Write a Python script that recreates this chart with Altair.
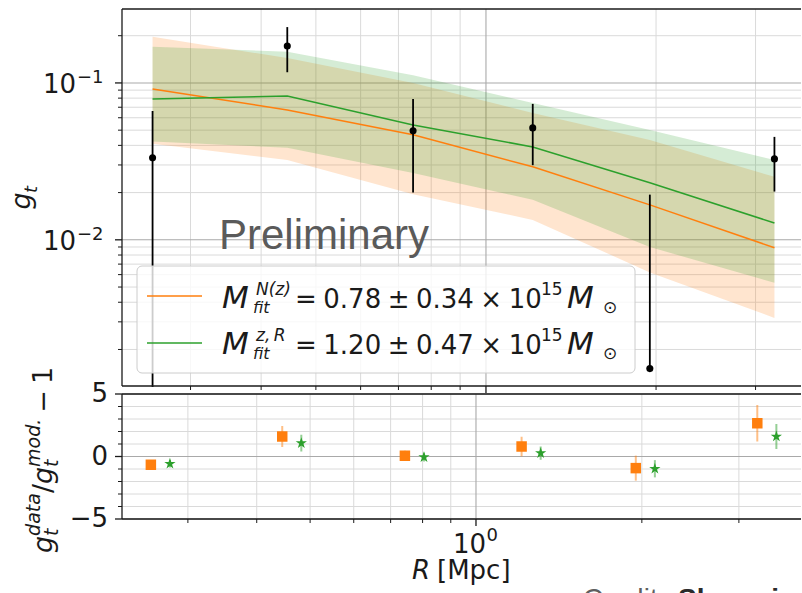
import altair as alt
import pandas as pd

# ---------------------------------------------------------------- data
# radial bins [Mpc]
R = [0.257, 0.445, 0.743, 1.21, 1.95, 3.24]

# measured tangential shear and its 1-sigma error
g_obs = [0.0333, 0.172, 0.0495, 0.0517, 0.00151, 0.0328]
g_err = [0.033, 0.055, 0.0295, 0.0218, 0.0179, 0.0125]

# N(z) fit: model profile and its band
nz_fit = [0.0916, 0.0673, 0.0467, 0.0292, 0.0167, 0.0089]
nz_low = [0.0409, 0.0323, 0.0195, 0.0134, 0.0062, 0.00318]
nz_high = [0.197, 0.144, 0.100, 0.0644, 0.0433, 0.0252]

# z,R fit: model profile and its band
zr_fit = [0.079, 0.0826, 0.054, 0.0391, 0.0231, 0.0128]
zr_low = [0.0423, 0.0386, 0.0267, 0.0180, 0.0090, 0.00532]
zr_high = [0.170, 0.158, 0.112, 0.0746, 0.0502, 0.0323]

# residuals g_data / g_model - 1
res_nz = [-0.66, 1.60, 0.06, 0.80, -0.93, 2.66]
res_nz_err = [0.35, 0.84, 0.40, 0.78, 1.00, 1.46]
res_zr = [-0.58, 1.07, -0.05, 0.27, -0.98, 1.60]
res_zr_err = [0.30, 0.67, 0.35, 0.53, 0.69, 1.00]

# tick values
x_minor = [0.3, 0.4, 0.5, 0.6, 0.7, 0.8, 0.9, 2, 3]
x_major = [1.0]
y_minor_top = [0.002, 0.003, 0.004, 0.005, 0.006, 0.007, 0.008, 0.009,
               0.02, 0.03, 0.04, 0.05, 0.06, 0.07, 0.08, 0.09, 0.2]
y_major_top = [0.01, 0.1]
y_major_exp = ["\u22122", "\u22121"]
y_minor_bot = [-4, -3, -2, -1, 1, 2, 3, 4]
y_major_bot = [-5, 0, 5]
y_major_bot_lab = ["\u22125", "0", "5"]

# legend values
legend_rows = ["=\u20050.78\u2005\u00b1\u20050.34\u2005\u00d7\u200510",
               "=\u20051.20\u2005\u00b1\u20050.47\u2005\u00d7\u200510"]
legend_sup = ["N(z)", "z,\u2009R"]

R_SHIFT = 1.083  # horizontal offset of the z,R residual markers

# ---------------------------------------------------------------- style
ORANGE = "#ff7f0e"
GREEN = "#2ca02c"
INK = "#1a1a1a"
GRID_MINOR = "#dadada"
GRID_MAJOR = "#a9a9a9"
MATH = "DejaVu Sans"
SANS = "Liberation Sans"
# five-pointed star in the unit square used by Vega symbol paths
STAR = ("M0,-1L0.225,-0.309L0.951,-0.309L0.363,0.118L0.588,0.809L0,0.382"
        "L-0.588,0.809L-0.363,0.118L-0.951,-0.309L-0.225,-0.309Z")

# geometry in pixels from the top-left corner of the upper panel
W = 700          # length of the log axes
VIS = 679        # drawn extent to the right (the axes run on past it)
TOP_H = 377
BOT_Y0, BOT_Y1 = 385, 510
VIEW_H = 620

X_TOP_DOM = [0.2269, 3.933]
X_BOT_DOM = [0.2278, 4.246]
xs_top = alt.Scale(type="log", domain=X_TOP_DOM, range=[0, W], nice=False)
ys_top = alt.Scale(type="log", domain=[0.00117, 0.296], range=[TOP_H, 0], nice=False)
xs_bot = alt.Scale(type="log", domain=X_BOT_DOM, range=[0, W], nice=False)
ys_bot = alt.Scale(domain=[-5, 5], range=[BOT_Y1, BOT_Y0], nice=False)


def X_top(f):
    return alt.X(f, type="quantitative", scale=xs_top, axis=None)


def Y_top(f):
    return alt.Y(f, type="quantitative", scale=ys_top, axis=None)


def X_bot(f):
    return alt.X(f, type="quantitative", scale=xs_bot, axis=None)


def Y_bot(f):
    return alt.Y(f, type="quantitative", scale=ys_bot, axis=None)


def one():
    return alt.Chart(pd.DataFrame({"k": [0]}))


def txt(s, x, y, size=26, italic=False, angle=0, align="left", font=MATH,
        color=INK, bold=False, clip=False):
    props = dict(text=s, fontSize=size, font=font, color=color, align=align,
                 baseline="alphabetic")
    if italic:
        props["fontStyle"] = "italic"
    if bold:
        props["fontWeight"] = "bold"
    if angle:
        props["angle"] = angle
    if clip:
        props["clip"] = True
    return one().mark_text(**props).encode(x=alt.value(x), y=alt.value(y))


def vrules(values, X, y0, y1, color, width=1.0):
    return alt.Chart(pd.DataFrame({"v": values})).mark_rule(
        color=color, strokeWidth=width).encode(x=X("v"), y=alt.value(y0), y2=alt.value(y1))


def hrules(values, Y, x0, x1, color, width=1.0):
    return alt.Chart(pd.DataFrame({"v": values})).mark_rule(
        color=color, strokeWidth=width).encode(y=Y("v"), x=alt.value(x0), x2=alt.value(x1))


def seg(x0, y0, x1, y1, color=INK, width=1.3):
    return one().mark_rule(color=color, strokeWidth=width).encode(
        x=alt.value(x0), y=alt.value(y0), x2=alt.value(x1), y2=alt.value(y1))


def frame(y0, y1):
    return [seg(0, y0, VIS, y0), seg(0, y1, VIS, y1), seg(0, y0, 0, y1)]


# ---------------------------------------------------------------- upper panel
prof = pd.DataFrame({"R": R, "nz": nz_fit, "nz_lo": nz_low, "nz_hi": nz_high,
                     "zr": zr_fit, "zr_lo": zr_low, "zr_hi": zr_high})
obs = pd.DataFrame({
    "R": R, "g": g_obs,
    "hi": [g + e for g, e in zip(g_obs, g_err)],
    # on a log axis a non-positive lower bound leaves only the upper arm
    "lo": [g - e if g - e > 0 else g for g, e in zip(g_obs, g_err)],
})
ylab = pd.DataFrame({"v": y_major_top, "exp": y_major_exp})

top_grid = [
    vrules(x_minor, X_top, 0, TOP_H, GRID_MINOR),
    hrules(y_minor_top, Y_top, 0, VIS, GRID_MINOR),
    vrules(x_major, X_top, 0, TOP_H, GRID_MAJOR, 1.1),
    hrules(y_major_top, Y_top, 0, VIS, GRID_MAJOR, 1.1),
]
top_ticks = [
    hrules(y_minor_top, Y_top, -4, 0, INK),
    hrules(y_major_top, Y_top, -7, 0, INK, 1.3),
    vrules(x_minor, X_top, TOP_H, TOP_H + 4, INK),
    vrules(x_major, X_top, TOP_H, TOP_H + 7, INK, 1.3),
]

band_nz = alt.Chart(prof).mark_area(color=ORANGE, opacity=0.2).encode(
    x=X_top("R"), y=Y_top("nz_lo"), y2="nz_hi")
band_zr = alt.Chart(prof).mark_area(color=GREEN, opacity=0.2).encode(
    x=X_top("R"), y=Y_top("zr_lo"), y2="zr_hi")
line_nz = alt.Chart(prof).mark_line(color=ORANGE, strokeWidth=1.5).encode(
    x=X_top("R"), y=Y_top("nz"))
line_zr = alt.Chart(prof).mark_line(color=GREEN, strokeWidth=1.5).encode(
    x=X_top("R"), y=Y_top("zr"))
err_top = alt.Chart(obs).mark_rule(color="black", strokeWidth=1.8).encode(
    x=X_top("R"), y=Y_top("lo"), y2="hi")
# white strip between the panels hides what runs below the upper frame
gap = one().mark_rect(fill="white").encode(
    x=alt.value(-2), x2=alt.value(VIS), y=alt.value(TOP_H + 1), y2=alt.value(BOT_Y0))
dots = alt.Chart(obs).mark_circle(color="black", size=50, opacity=1).encode(
    x=X_top("R"), y=Y_top("g"))

ylab_main = alt.Chart(ylab).mark_text(
    text="10", font=MATH, fontSize=26, color=INK, align="right",
    baseline="alphabetic", dy=10).encode(x=alt.value(-46), y=Y_top("v"))
ylab_exp = alt.Chart(ylab).mark_text(
    font=MATH, fontSize=18, color=INK, align="left", baseline="alphabetic"
).encode(x=alt.value(-45), y=Y_top("v"), text="exp:N")

legend_box = one().mark_rect(
    fill="white", fillOpacity=0.8, stroke="#cccccc", strokeWidth=1,
    cornerRadius=5).encode(x=alt.value(15), x2=alt.value(513),
                           y=alt.value(257), y2=alt.value(364))
handle_nz = seg(25, 287, 80, 287, ORANGE, 1.5)
handle_zr = seg(25, 334, 80, 334, GREEN, 1.5)

legend_text = []
for i, base in enumerate([299, 345]):
    legend_text += [
        txt("M", 100, base, size=31, italic=True),
        txt(legend_sup[i], 134, base - 13, size=17, italic=True),
        txt("fit", 131, base + 5, size=16, italic=True),
        txt(legend_rows[i], 173, base),
        txt("15", 419, base - 13, size=17),
        txt("M", 445, base, size=31, italic=True),
        txt("\u2299", 481, base + 5, size=17),
    ]

prelim = txt("Preliminary", 97, 240, size=42, font=SANS, color="#5a5a5a")
ytitle_top = [
    txt("g", -92, 192, size=27, italic=True, angle=270, align="center"),
    txt("t", -85, 184, size=18, italic=True, angle=270),
]

# ---------------------------------------------------------------- lower panel
res = pd.DataFrame({
    "R": R, "R2": [r * R_SHIFT for r in R],
    "nz": res_nz,
    "nz_lo": [v - e for v, e in zip(res_nz, res_nz_err)],
    "nz_hi": [v + e for v, e in zip(res_nz, res_nz_err)],
    "zr": res_zr,
    "zr_lo": [v - e for v, e in zip(res_zr, res_zr_err)],
    "zr_hi": [v + e for v, e in zip(res_zr, res_zr_err)],
})
ybot_lab = pd.DataFrame({"v": y_major_bot, "lab": y_major_bot_lab})
xmaj = pd.DataFrame({"R": x_major})

bot_bg = one().mark_rect(fill="white").encode(
    x=alt.value(0), x2=alt.value(VIS), y=alt.value(BOT_Y0), y2=alt.value(BOT_Y1))
bot_grid = [
    vrules(x_minor, X_bot, BOT_Y0, BOT_Y1, GRID_MINOR),
    hrules(y_minor_bot, Y_bot, 0, VIS, GRID_MINOR),
    vrules(x_major, X_bot, BOT_Y0, BOT_Y1, GRID_MAJOR, 1.1),
    hrules(y_major_bot, Y_bot, 0, VIS, GRID_MAJOR, 1.1),
]
bot_ticks = [
    hrules(y_minor_bot, Y_bot, -4, 0, INK),
    hrules(y_major_bot, Y_bot, -7, 0, INK, 1.3),
    vrules(x_minor, X_bot, BOT_Y1, BOT_Y1 + 4, INK),
    vrules(x_major, X_bot, BOT_Y1, BOT_Y1 + 7, INK, 1.3),
]

err_nz = alt.Chart(res).mark_rule(color=ORANGE, opacity=0.5, strokeWidth=2).encode(
    x=X_bot("R"), y=Y_bot("nz_lo"), y2="nz_hi")
err_zr = alt.Chart(res).mark_rule(color=GREEN, opacity=0.5, strokeWidth=2).encode(
    x=X_bot("R2"), y=Y_bot("zr_lo"), y2="zr_hi")
sq = alt.Chart(res).mark_point(shape="square", filled=True, color=ORANGE,
                               size=110, opacity=1).encode(x=X_bot("R"), y=Y_bot("nz"))
star = alt.Chart(res).mark_point(shape=STAR, filled=True, color=GREEN,
                                 size=140, opacity=1).encode(x=X_bot("R2"), y=Y_bot("zr"))

ybot_text = alt.Chart(ybot_lab).mark_text(
    font=MATH, fontSize=26, color=INK, align="right", baseline="middle"
).encode(x=alt.value(-14), y=Y_bot("v"), text="lab:N")
xlab_main = alt.Chart(xmaj).mark_text(
    text="10", font=MATH, fontSize=26, color=INK, align="right",
    baseline="alphabetic", dx=10).encode(x=X_bot("R"), y=alt.value(BOT_Y0 + 159))
xlab_exp = alt.Chart(xmaj).mark_text(
    text="0", font=MATH, fontSize=18, color=INK, align="left",
    baseline="alphabetic", dx=10.5).encode(x=X_bot("R"), y=alt.value(BOT_Y0 + 147))

B = BOT_Y0
xtitle = [
    txt("R", 308, B + 185, italic=True, align="right"),
    txt("[Mpc]", 315, B + 185),
]
ytitle_bot = [
    txt("g", -70, B + 159, size=27, italic=True, angle=270),
    txt("data", -82, B + 141.9, size=19, italic=True, angle=270),
    txt("t", -64.5, B + 141.9, size=19, italic=True, angle=270),
    txt("/", -70, B + 99.1, size=27, angle=270),
    txt("g", -70, B + 90, size=27, italic=True, angle=270),
    txt("mod.", -82, B + 72.9, size=19, italic=True, angle=270),
    txt("t", -64.5, B + 72.9, size=19, italic=True, angle=270),
    txt("\u2212", -70, B + 18.7, size=27, angle=270),
    txt("1", -70, B - 9.9, size=27, angle=270),
]
credit = [
    txt("Credit:", 461, B + 214, size=28, font=SANS, color="#5f5f5f", clip=True),
    txt("Shenming Fu", 556, B + 214, size=28, font=SANS, color="#2b2b2b",
        bold=True, clip=True),
]

# keeps the plot origin at a fixed place inside the page
anchor = seg(-122, -9, -121, -9, INK, 1).mark_rule(strokeOpacity=0)

chart = alt.layer(
    *top_grid, band_nz, band_zr, line_nz, line_zr, err_top, gap, dots,
    *top_ticks, ylab_main, ylab_exp,
    legend_box, handle_nz, handle_zr, *legend_text, prelim, *ytitle_top,
    *frame(0, TOP_H),
    bot_bg, *bot_grid, err_nz, err_zr, sq, star, *bot_ticks,
    ybot_text, xlab_main, xlab_exp, *xtitle, *ytitle_bot, *credit,
    *frame(BOT_Y0, BOT_Y1), anchor,
).resolve_scale(x="independent", y="independent").properties(
    width=VIS + 1, height=VIEW_H, padding=0
).configure_view(stroke=None)

chart.save("out.html", embed_options={"renderer": "svg", "actions": False})
